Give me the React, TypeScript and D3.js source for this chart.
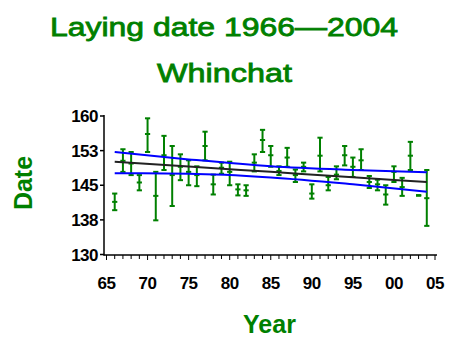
import React from "react";
import * as d3 from "d3";

const years = [1966, 1967, 1968, 1969, 1970, 1971, 1972, 1973, 1974, 1975, 1976, 1977, 1978, 1979, 1980, 1981, 1982, 1983, 1984, 1985, 1986, 1987, 1988, 1989, 1990, 1991, 1992, 1993, 1994, 1995, 1996, 1997, 1998, 1999, 2000, 2001, 2002, 2003, 2004];
const means = [141.4, 150.3, 149.7, 145.6, 156.1, 142.7, 151.5, 147.2, 149.0, 147.9, 147.2, 153.5, 145.2, 148.8, 147.9, 144.1, 143.9, 149.9, 154.8, 151.5, 148.1, 151.0, 147.2, 149.0, 143.2, 151.4, 145.0, 147.3, 151.5, 149.0, 150.4, 145.7, 145.2, 143.0, 147.9, 144.6, 151.4, 142.8, 142.2];
const uppers = [143.2, 152.8, 152.2, 147.2, 159.5, 147.9, 155.7, 153.5, 151.7, 150.4, 149.1, 156.6, 147.3, 149.9, 150.1, 145.2, 145.0, 151.7, 157.0, 153.5, 149.1, 153.1, 148.4, 149.9, 145.2, 155.3, 146.8, 149.1, 153.5, 151.0, 152.8, 147.0, 146.2, 145.0, 149.1, 146.6, 154.4, 142.8, 148.3];
const lowers = [139.6, 147.9, 147.2, 143.9, 152.2, 137.4, 148.3, 140.5, 146.1, 145.0, 144.8, 150.4, 143.0, 147.5, 145.0, 142.8, 142.7, 148.0, 152.2, 149.0, 147.2, 149.0, 145.7, 148.0, 142.1, 148.0, 143.9, 146.3, 149.3, 146.8, 148.3, 144.4, 143.9, 140.8, 145.7, 142.7, 148.3, 142.8, 136.2];

const fitYears = [1966, 1975, 1985, 1995, 2004];
const fitMean = [150.1, 149.06, 147.9, 146.74, 145.7];
const fitUpper = [152.2, 150.6, 149.1, 148.3, 147.8];
const fitLower = [147.6, 147.5, 146.7, 145.2, 143.6];

const xTickValues = [1965, 1970, 1975, 1980, 1985, 1990, 1995, 2000, 2005];
const xTickLabels = ["65", "70", "75", "80", "85", "90", "95", "00", "05"];
const yTickValues = [130, 137.5, 145, 152.5, 160];
const yTickLabels = ["130", "138", "145", "153", "160"];

const titleLine1 = "Laying date 1966\u20142004";
const titleLine2 = "Whinchat";
const xTitle = "Year";
const yTitle = "Date";

const GREEN = "#008000";
const BLUE = "#0000ff";

export default function App() {
  const x = d3.scaleLinear().domain([1965, 2005]).range([106.5, 435]);
  const y = d3.scaleLinear().domain([130, 160]).range([254.5, 116]);
  const minorYears = d3.range(1965, 2006);

  const lineGen = d3
    .line<number>()
    .x((_, i) => x(fitYears[i]))
    .curve(d3.curveMonotoneX);

  const meanPath = lineGen.y((d) => y(d))(fitMean) || "";
  const upperPath = lineGen.y((d) => y(d))(fitUpper) || "";
  const lowerPath = lineGen.y((d) => y(d))(fitLower) || "";

  const font = "'Liberation Sans', Arial, sans-serif";
  const capW = 2.6;

  return (
    <svg
      width={449}
      height={337}
      style={{ position: "absolute", left: 0, top: 0, background: "#fff" }}
    >
      <rect width={449} height={337} fill="#fff" />
      <text x={224} y={36} textAnchor="middle" fontFamily={font} fontSize={26} fill={GREEN} stroke={GREEN} strokeWidth={0.8} textLength={348} lengthAdjust="spacingAndGlyphs">
        {titleLine1}
      </text>
      <text x={224.5} y={81.5} textAnchor="middle" fontFamily={font} fontSize={26} fill={GREEN} stroke={GREEN} strokeWidth={0.8} textLength={135} lengthAdjust="spacingAndGlyphs">
        {titleLine2}
      </text>

      {/* error bars */}
      <g stroke={GREEN} strokeWidth={2} fill="none">
        {years.map((yr, i) => {
          const cx = x(yr);
          return (
            <g key={yr}>
              <line x1={cx} x2={cx} y1={y(uppers[i])} y2={y(lowers[i])} />
              <line x1={cx - capW} x2={cx + capW} y1={y(uppers[i])} y2={y(uppers[i])} />
              <line x1={cx - capW} x2={cx + capW} y1={y(lowers[i])} y2={y(lowers[i])} />
              <line x1={cx - capW} x2={cx + capW} y1={y(means[i])} y2={y(means[i])} />
            </g>
          );
        })}
      </g>

      {/* fit lines */}
      <path d={upperPath} stroke={BLUE} strokeWidth={2} fill="none" />
      <path d={lowerPath} stroke={BLUE} strokeWidth={2} fill="none" />
      <path d={meanPath} stroke="#222" strokeWidth={2} fill="none" />

      {/* axes */}
      <g stroke="#000" strokeWidth={1.5}>
        <line x1={104} x2={104} y1={115} y2={255.5} />
        <line x1={103.5} x2={437} y1={255} y2={255} />
        {yTickValues.map((v) => (
          <line key={v} x1={100} x2={104} y1={y(v)} y2={y(v)} />
        ))}
        {minorYears.map((yr) => (
          <line key={yr} x1={x(yr)} x2={x(yr)} y1={255} y2={yr % 5 === 0 ? 260 : 259} strokeWidth={1} />
        ))}
      </g>
      {yTickValues.map((v, i) => (
        <text key={v} x={98} y={y(v) + 6} textAnchor="end" fontFamily={font} fontWeight="bold" fontSize={17} letterSpacing={-0.5} fill="#000">
          {yTickLabels[i]}
        </text>
      ))}
      {xTickValues.map((v, i) => (
        <text key={v} x={x(v)} y={289} textAnchor="middle" fontFamily={font} fontWeight="bold" fontSize={17} letterSpacing={-0.5} fill="#000">
          {xTickLabels[i]}
        </text>
      ))}

      <text x={269.5} y={333} textAnchor="middle" fontFamily={font} fontWeight="bold" fontSize={25} fill={GREEN}>
        {xTitle}
      </text>
      <text transform="translate(32,183) rotate(-90)" textAnchor="middle" fontFamily={font} fontWeight="bold" fontSize={25} fill={GREEN}>
        {yTitle}
      </text>
    </svg>
  );
}
